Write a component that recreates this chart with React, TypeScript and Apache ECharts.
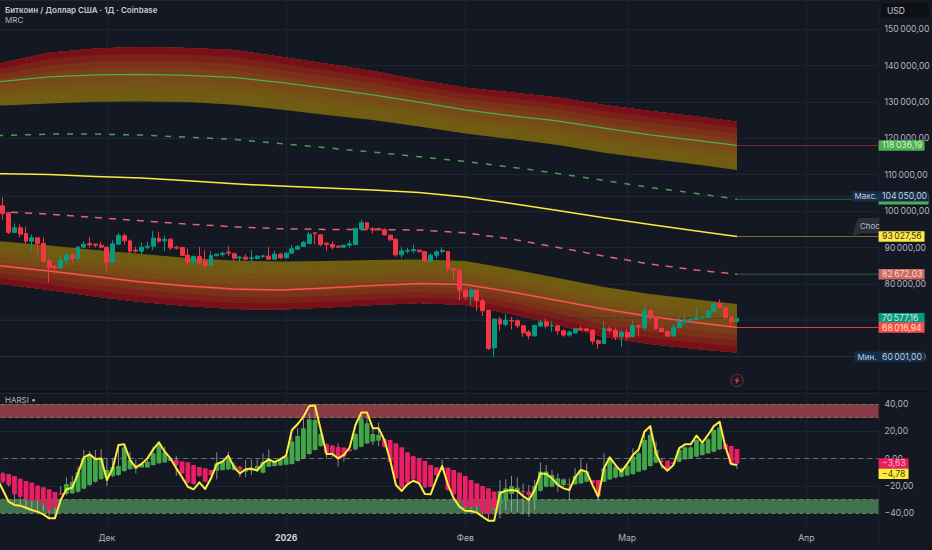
import React, { useEffect, useRef } from "react";
import * as echarts from "echarts";

const BG = "#141823";
const GRID = "#1f2430";
const AXIS_TEXT = "#b2b5be";
const FONT = "Inter, Roboto, sans-serif";
const PLOT_W = 878.56;
const STEP = 5.78;
const N_CATS = 153;
const AX_FONT = 8.6;

const categories: string[] = [];
for (let i = 0; i < N_CATS; i++) {
  categories.push(new Date(Date.UTC(2025, 10, 12) + i * 86400000).toISOString().slice(0, 10));
}
const monthIndex = [19, 50, 81, 109, 140];
const monthText = ["Дек", "2026", "Фев", "Мар", "Апр"];

// [open, close, low, high]; slot 0 is the day cut off at the left edge
const candles: any[] = [
  ["-","-","-","-"],
  [101465,99358,97709,103755],[99541,94137,93679,99816],[94137,95419,94045,96610],[95419,93679,92763,96427],
  [93862,91755,91114,95694],[91755,92671,89099,93587],[92671,91114,88366,92671],[91114,86259,85801,92763],
  [86351,84519,80397,86992],[84794,84427,82870,85252],[84427,86534,84244,87725],[86534,87908,84885,88824],
  [87908,86992,85893,88366],[86992,90106,86076,90381],[90106,90931,90015,91755],[91114,90748,90015,92946],
  [90931,90656,90015,91114],[90656,90106,89740,91572],[90106,85984,83511,90198],[85984,91022,85984,92030],
  [90931,93312,90839,94045],[93221,91847,90839,93862],[91847,89007,88183,92213],[89282,89007,88549,90198],
  [89007,90106,88091,91389],[90106,90381,89465,91572],[90381,92580,89282,94503],[92580,91755,91297,94228],
  [91847,92213,89007,93221],[92305,89923,89282,92488],[90106,89832,89465,90473],[90015,87816,87633,90198],
  [87908,85984,85068,89740],[85984,87542,85068,87816],[87542,85801,85252,90198],[86168,85068,84061,89282],
  [85068,87816,85068,89007],[87725,88183,87633,88183],[88091,88458,87450,88916],[88732,88458,87725,90381],
  [88275,87084,86351,88641],[87084,87358,86076,87725],[87358,86809,86626,88183],[86992,87175,86351,89282],
  [86992,87633,86717,87816],[87542,87725,87175,87908],[87633,86809,86626,90198],[86809,88183,86626,89007],
  [88183,87175,86809,88549],[87175,88458,87084,88641],[88458,89648,88275,90656],[89557,90290,89465,90656],
  [90290,91389,90198,91847],[91114,93679,91022,94412],[94045,93770,90931,94137],[93496,90839,90381,93496],
  [91206,90839,89007,91389],[90839,90106,89465,91755],[90381,90106,90015,90473],[90106,90656,90015,90656],
  [90656,91022,89923,92030],[90839,95236,90656,95419],[95053,96793,94595,97709],[96793,95328,94778,96885],
  [95236,94870,93862,95511],[95236,94870,94778,95328],[94870,93496,93312,95236],[93404,92122,91755,93404],
  [92305,88000,87450,92396],[88000,89099,87175,90198],[89007,89190,88366,89923],[89099,89465,88366,90839],
  [89282,88824,88732,89374],[88824,86351,85984,89007],[86259,87908,86259,88366],[87908,88824,86992,89190],
  [88916,89190,88366,90106],[88926,84254,83063,89007],[84254,83796,80865,84254],[83796,78300,75552,83796],
  [78300,76468,75552,78758],[76468,78300,74178,78758],[78300,75369,72621,78300],[75369,72621,71155,76010],
  [72712,62270,61812,72804],[62453,70331,60001,70331],[70240,68957,67125,70972],[68865,70056,68407,71888],
  [69964,69781,67491,70972],[69873,68499,67858,70240],[68499,66575,65476,68865],[66758,65751,64743,67308],
  [65751,68590,65476,68865],[68407,69507,68224,70148],[69598,68407,67766,70514],[68407,68590,66850,69690],
  [68499,67125,66026,68774],[67125,65934,65476,67491],[65934,66758,65476,67125],[66575,67674,66209,67858],
  [67766,67400,67125,68407],[67674,67216,66942,68041],[67308,64285,63369,67491],[64377,63644,62178,64835],
  [63644,67766,63461,69781],[67674,67216,66392,68407],[67216,65476,64560,68041],[65476,66667,62728,67308],
  [66667,65384,64743,67674],[65476,68590,65293,69781],[68590,68132,65476,68865],[67949,72438,67125,73903],
  [72529,70606,70240,73079],[70789,67674,67491,70789],[67858,66942,66667,68041],[66942,65659,65476,67125],
  [65659,68041,65568,69140],[68041,69598,67949,71247],[69506,70056,68774,71155],[69873,70331,69781,70422],
  [70240,70606,70056,73537],[70606,70880,70514,70972],[70789,72529,70697,72621],[72346,74636,72254,74820],
  [74636,73537,73354,75735],[73537,70697,70422,73720],[70880,69598,68407,71063],[69598,70577,69400,70700],
];

// MRC curves, read at these category slots
const mrcKnots = [0,1,9,17,25,33,41,49,57,65,73,81,89,97,105,113,121,128];
const upperBandTop = [140300,140751,143498,144689,145055,144780,144231,142400,140477,138462,135990,133884,132602,131228,129122,127473,126008,124543];
const upperBandBottom = [128950,129030,129580,130038,130129,129946,129213,127931,126375,125001,123261,121338,119781,118133,116027,114379,112822,111266];
const upperInner = [135400,135623,136905,137455,137546,137272,136722,135349,133700,131960,129946,127840,126192,124818,122804,120972,119415,118036];
const upperOuterDashed = [120750,120789,121155,121155,120880,120331,119690,118591,117401,116212,114929,113646,112090,110350,108427,106504,104856,103270];
const meanLine = [110280,110258,110075,109526,109068,108336,107512,106870,106321,105772,105131,103849,102109,100186,98171,96340,94509,93027];
const lowerOuterDashed = [99950,99812,99180,98272,97340,96430,95690,95140,94980,94980,94785,94040,92310,90030,87640,85445,83800,82672];
const lowerBandTop = [91800,91625,90527,89291,88192,87093,86406,86131,86269,86544,86681,86269,84070,81600,79127,77204,75693,74457];
const lowerInner = [85150,84896,83522,82011,80501,79402,78578,78303,78852,79539,80088,79814,77753,75418,73083,71023,69374,68016];
const lowerBandBottom = [80300,79951,78303,76517,75006,73907,73083,72946,73495,74183,74733,74183,71710,68688,65392,63469,62096,61135];
const layerColors = ["#6f5e12","#715a13","#745314","#774a16","#7a3f18","#7b3219","#7a221a","#78101a"];

// HARSI candles [open, close, low, high], from slot 1
const harsi = [
  [-10.9,-17,-18.2,-9.7],[-11.4,-19.4,-20.7,-11.4],[-12.8,-26.3,-32.9,-12.8],[-14.8,-28,-34.1,-14.8],
  [-16.5,-29.9,-35.3,-16.5],[-17.7,-31.2,-36.6,-17.7],[-19.9,-30.9,-37.8,-19.9],[-21.1,-34.1,-39,-21.1],
  [-22.6,-38.3,-43.9,-22.6],[-24.6,-35.8,-43.9,-24.6],[-25.5,-26.5,-26.8,-20.2],[-26,-18.7,-27,-13.8],
  [-25.5,-17.2,-26,-12.8],[-24.3,-10.1,-25.1,-6],[-22.1,0.1,-22.6,6.3],[-19.4,3.1,-20.2,5.5],
  [-17,-0.4,-17.7,6.3],[-15,-0.4,-15.8,7],[-13.8,-8.4,-20.2,0.1],[-12.8,-6.2,-13.8,0.1],
  [-12.1,-5.5,-12.6,9.9],[-9.2,8.2,-9.7,9.9],[-7.7,-1.1,-8.4,5],[-7.4,-5.5,-10.9,-0.6],
  [-6.5,-4,-6.8,-3.5],[-6.5,-2.3,-6.8,-1],[-4.8,3.8,-5,8.7],[-3.5,9.9,-3.8,12.4],
  [-2.8,4.5,-3,8.7],[-1.8,0.1,-2,1],[-1.1,-4.8,-12.8,2.1],[-2.1,-10.9,-11.4,-2.1],
  [-2.8,-17.7,-18.2,-2.8],[-4.8,-18.7,-19.2,-4.8],[-6.2,-12.8,-13.3,-6.2],[-7.2,-17,-17.4,-7.2],
  [-8.4,-12.1,-12.6,-8.4],[-8.9,-3.5,-15.3,4.5],[-8.4,-1.8,-8.9,-1],[-7.9,0.1,-8.4,5],
  [-8.4,-5,-8.9,-3],[-6,-8.4,-13.8,-5.5],[-9.6,-8.4,-13.8,-1.1],[-8.9,-7.4,-12.1,-0.6],
  [-7.9,-5.5,-9.6,-0.6],[-10.4,-2.6,-10.9,3.8],[-6,-1.3,-6.5,6.7],[-5.5,-2.3,-5.8,-1.8],
  [-5,-0.4,-5.3,0.1],[-4.5,1.4,-4.8,1.9],[-4,12.4,-4.5,16],[-1.8,16.5,-2.3,22.6],
  [0.1,22.2,-0.4,29.5],[3.3,28.8,2.8,33.2],[6.3,28.3,5.8,38.1],[9.2,18,8.7,18.5],
  [10.4,3.8,0.1,11.1],[9.4,2.6,1,9.9],[8.4,0.1,-6,11.1],[8,1.4,-2.3,8],
  [6.7,5.5,5,7],[6.7,18,6.2,18.5],[8.7,29.5,8.2,33.2],[11.1,25.8,10.6,30.7],
  [12.4,18,9.9,22.9],[13.1,17.3,9.2,26.3],[14.1,8.7,8.2,14.1],[13.6,-2.3,-2.6,13.6],
  [11.1,-14.5,-15,11.1],[8.2,-21.1,-21.6,8.2],[4.5,-17.7,-18.2,4.5],[1.8,-15.3,-15.8,1.8],
  [-0.1,-18.2,-18.7,-0.1],[-1.8,-21.1,-21.6,-1.8],[-4.8,-20.7,-21.1,-4.8],[-6.5,-12.1,-12.6,-6.5],
  [-6.5,-8.4,-9,-0.6],[-6.7,-23.1,-23.6,-6.7],[-8.4,-26,-26.5,-8.4],[-10.4,-31.2,-31.7,-10.4],
  [-12.8,-35.8,-36.3,-12.8],[-15.8,-35.8,-37,-15.8],[-18.2,-35.3,-39,-18.2],[-20.2,-39.7,-42,-20.2],
  [-21.9,-40.7,-45,-21.9],[-24.3,-36.6,-38,-24.3],[-32.9,-23.8,-43.9,-15.8],[-30.9,-21.9,-37.8,-15.3],
  [-26,-20.2,-39,-12.8],[-24.3,-21.4,-39,-13.8],[-23.8,-24.6,-41.4,-18.2],[-24.3,-26.8,-42.7,-19.4],
  [-30.4,-20.2,-37.8,-15.8],[-23.6,-9.6,-24.3,-2.8],[-20.7,-9.6,-21.1,-4.8],[-20.7,-12.1,-21.1,-8.4],
  [-19.4,-14.5,-24.3,-10.9],[-19.4,-15.3,-20.7,-14.5],[-18.7,-19.4,-30.4,-14.5],[-18.9,-12.8,-19.4,-7.2],
  [-18.2,-8.4,-18.7,-0.6],[-17,-9.6,-17.5,-3.5],[-15.8,-18.2,-18.7,-15.8],[-15.8,-27.5,-30.9,-15.8],
  [-17,-7.2,-17.5,3.8],[-15.3,-0.6,-15.8,1.4],[-14,-6,-14.5,-5.5],[-13.3,-7.2,-13.8,-6.7],
  [-12.3,-5.2,-12.8,-4.8],[-11.4,1.4,-11.9,7.5],[-9.6,3.8,-10,6.7],[-8.4,13.6,-8.9,20.9],
  [-5.5,17.3,-6,23.4],[-3,6.3,-3.5,12.4],[-1.6,-2.3,-7.7,0.1],[-1.6,-7.2,-9.2,-1.6],
  [-3,-4,-4.5,-2.5],[-2.3,6.3,-2.8,8.7],[-0.6,8.2,-1.1,9],[0.1,8.2,-0.4,9],
  [1.4,13.6,0.9,14.1],[2.6,11.1,2.1,12],[3.8,14.1,3.3,15],[5,20.9,4.5,21.5],
  [6.7,22.9,6.2,27],[10.8,7,6.5,10.8],[9.2,-4,-4.5,9.2],[7,-3.63,-7.7,7],
];

const rsiLine = [
  -14.5,-23.1,-31.7,-34.1,-34.6,-36.1,-37.8,-39,-41,-43.9,-43.9,-30.4,-22.6,-21.4,-10.9,0.9,3.1,
  -0.4,0.1,-15.8,-7.2,9.9,10.4,-1.1,-6.5,-4,0.1,6.7,11.9,5,0.1,-7.2,-13.8,
  -20.7,-22.6,-17.5,-22.4,-14.5,-4,-2.3,2.1,-6.5,-10.9,-7.9,-7.4,-8.9,-3.5,-0.6,-2.6,
  -0.4,2.1,20.9,25.3,30.7,38.5,39,20.9,3.3,3.3,0.1,2.6,8.2,24.6,33.7,33.7,
  22.2,22.2,13.6,-1.1,-19.4,-23.8,-18.9,-16.3,-18.2,-26,-26.3,-15.3,-5.5,-19.4,-29.2,-35.3,
  -38.3,-38.5,-39.7,-42.7,-45.6,-45.6,-25.5,-23.6,-23.1,-23.8,-27.5,-30.4,-23.1,-10.9,-11.4,-14.5,
  -19.4,-21.9,-23.1,-13.8,-8.4,-9.6,-19.4,-28,-7.2,0.9,-4.8,-9.6,-4,2.6,6.7,19.7,
  23.8,3.8,-5.2,-8.9,-4.8,7.5,10.4,10.4,16.8,11.6,17.3,23.8,27,8.7,-4,-4.78,
];

const overbought = [30, 40];
const oversold = [-40, -30];

type Tag = { value: number; text: string; w: number; bg: string; fg: string; line?: string; from?: number; dash?: number[]; side?: string };

const priceTags: Tag[] = [
  { value: 118036.19, text: "118\u2009036,19", w: 46, bg: "#4caf50", fg: "#d8f0c8", line: "#7d2a33", from: 128 },
  { value: 103270, text: "", w: 50, bg: "#4caf50", fg: "#fff", line: "#2f6b47", from: 128 },
  { value: 104050, text: "104\u2009050,00", w: 50, bg: "#132f4c", fg: "#c8ccd6", line: "#333844", from: 0, dash: [1, 1], side: "Макс." },
  { value: 93027.56, text: "93\u2009027,56", w: 46, bg: "#ffe94a", fg: "#3a3410", line: "#80701f", from: 128 },
  { value: 82672.03, text: "82\u2009672,03", w: 46, bg: "#d0646b", fg: "#eee3a8", line: "#2f5a45", from: 128 },
  { value: 70577.16, text: "70\u2009577,16", w: 46, bg: "#089981", fg: "#cfeedd", line: "#1c3347", from: 0, dash: [1, 1] },
  { value: 68016.94, text: "68\u2009016,94", w: 46, bg: "#fb4a57", fg: "#ffe6a0", line: "#d0454f", from: 128 },
  { value: 60001, text: "60\u2009001,00", w: 46, bg: "#132f4c", fg: "#c8ccd6", line: "#333844", from: 0, dash: [1, 1], side: "Мин." },
];
const harsiTags: Tag[] = [
  { value: -3.63, text: "\u22123,63", w: 30, bg: "#e91e63", fg: "#f5b8c8" },
  { value: -11.2, text: "\u22124,78", w: 30, bg: "#ffeb3b", fg: "#4a4310" },
];

const fmtPrice = (v: number) =>
  v === 50000 || v === 70000 ? "" : String(Math.round(v)).replace(/\B(?=(\d{3})+$)/g, "\u2009") + ",00";
const fmtHarsi = (v: number) => (v % 20 === 0 ? (v < 0 ? "\u2212" : "") + Math.abs(v).toFixed(2).replace(".", ",") : "");

const knotPairs = (arr: number[]) => arr.map((v, i) => [mrcKnots[i], v]);

// Each layer is painted from its own edge out to the far edge, so no seam shows
const bandRender = (top: number[], bottom: number[], redOnTop: boolean) => (_p: any, api: any) => {
  const from = redOnTop ? bottom : top;
  const to = redOnTop ? top : bottom;
  const n = layerColors.length;
  const children: any[] = [];
  for (let k = 0; k < n; k++) {
    const pts: number[][] = [];
    mrcKnots.forEach((x, j) => pts.push(api.coord([x, from[j] + ((to[j] - from[j]) * k) / n])));
    for (let j = mrcKnots.length - 1; j >= 0; j--) pts.push(api.coord([mrcKnots[j], to[j]]));
    children.push({ type: "polygon", shape: { points: pts }, style: { fill: layerColors[k] } });
  }
  return { type: "group", children };
};

const tagLineRender = (tags: Tag[]) => (p: any, api: any) => {
  const t = tags[p.dataIndex];
  if (!t.line) return { type: "group", children: [] };
  const y = api.coord([0, t.value])[1];
  const x0 = t.from === 0 ? 0 : api.coord([t.from, t.value])[0];
  return { type: "line", shape: { x1: x0, y1: y, x2: PLOT_W, y2: y }, style: { stroke: t.line, lineWidth: 1, lineDash: t.dash } };
};

const tagRender = (tags: Tag[]) => (p: any, api: any) => {
  const t = tags[p.dataIndex];
  const y = api.coord([0, t.value])[1];
  const h = 10.4;
  const children: any[] = [];
  if (t.side) {
    const sw = t.side === "Макс." ? 27 : 24;
    children.push({ type: "rect", shape: { x: PLOT_W - sw, y: y - h / 2, width: sw, height: h }, style: { fill: t.bg } });
    children.push({ type: "text", x: PLOT_W - sw + 3, y, style: { text: t.side, fill: t.fg, font: `${AX_FONT - 0.6}px ${FONT}`, verticalAlign: "middle", align: "left" } });
  }
  children.push({ type: "rect", shape: { x: PLOT_W, y: y - h / 2, width: t.w, height: h }, style: { fill: t.bg } });
  if (t.text) {
    children.push({ type: "text", x: PLOT_W + 3.5, y, style: { text: t.text, fill: t.fg, font: `${AX_FONT}px ${FONT}`, verticalAlign: "middle", align: "left" } });
  }
  return { type: "group", children };
};

const harsiRender = (p: any, api: any) => {
  const [o, c, l, h] = harsi[p.dataIndex];
  const i = p.dataIndex + 1;
  const x = api.coord([i, o])[0];
  const yo = api.coord([i, o])[1], yc = api.coord([i, c])[1];
  const yl = api.coord([i, l])[1], yh = api.coord([i, h])[1];
  const top = Math.min(yo, yc);
  return {
    type: "group",
    children: [
      { type: "line", shape: { x1: x, y1: yh, x2: x, y2: yl }, style: { stroke: "rgba(205,205,205,0.62)", lineWidth: 1 } },
      { type: "rect", shape: { x: x - 2.4, y: top, width: 4.8, height: Math.max(Math.abs(yo - yc), 1) }, style: { fill: c >= o ? "#43a648" : "#e91e63" } },
    ],
  };
};

const vLines = monthIndex.map((i) => ({ xAxis: i }));

export default function App() {
  const ref = useRef<HTMLDivElement>(null);
  useEffect(() => {
    document.body.style.margin = "0";
    document.body.style.background = BG;
    const chart = echarts.init(ref.current!, undefined, { renderer: "svg" });
    const xBase = (grid: number, showLabels: boolean) => ({
      type: "category",
      gridIndex: grid,
      data: categories,
      boundaryGap: true,
      axisLine: { show: false },
      axisTick: { show: false },
      splitLine: { show: false },
      axisLabel: showLabels
        ? {
            show: true,
            color: AXIS_TEXT,
            fontFamily: FONT,
            fontSize: AX_FONT,
            margin: 7,
            interval: (i: number) => monthIndex.includes(i),
            formatter: (_v: string, i: number) => {
              const k = monthIndex.indexOf(i);
              if (k < 0) return "";
              return monthText[k] === "2026" ? `{b|${monthText[k]}}` : monthText[k];
            },
            rich: { b: { fontWeight: 700, fontSize: AX_FONT, color: "#d1d4dc", fontFamily: FONT } },
          }
        : { show: false },
    });
    const line = (name: string, arr: number[], color: string, width: number, dash?: number[]) => ({
      type: "line",
      name,
      xAxisIndex: 0,
      yAxisIndex: 0,
      data: knotPairs(arr),
      showSymbol: false,
      z: 3,
      silent: true,
      lineStyle: { color, width, type: dash || "solid", cap: "butt", join: "round" },
    });
    chart.setOption({
      animation: false,
      backgroundColor: BG,
      textStyle: { fontFamily: FONT },
      grid: [
        { left: -STEP, top: 0, width: N_CATS * STEP, height: 393.12, containLabel: false, outerBoundsMode: "none" },
        { left: -STEP, top: 390.4, width: N_CATS * STEP, height: 136.25, containLabel: false, outerBoundsMode: "none" },
      ],
      xAxis: [xBase(0, false), xBase(1, true)],
      yAxis: [
        {
          type: "value", gridIndex: 0, position: "right", min: 50000, max: 158000, interval: 10000,
          axisLine: { show: false }, axisTick: { show: false },
          splitLine: { show: true, lineStyle: { color: GRID, width: 1 } },
          axisLabel: { color: AXIS_TEXT, fontFamily: FONT, fontSize: AX_FONT, margin: 6, showMaxLabel: false, formatter: fmtPrice },
        },
        {
          type: "value", gridIndex: 1, position: "right", min: -50, max: 50, interval: 10,
          axisLine: { show: false }, axisTick: { show: false },
          splitLine: { show: true, lineStyle: { color: ["rgba(0,0,0,0)", GRID], width: 1 } },
          axisLabel: { color: AXIS_TEXT, fontFamily: FONT, fontSize: AX_FONT, margin: 6, formatter: fmtHarsi },
        },
      ],
      graphic: [
        { type: "line", z: 1, shape: { x1: 0, y1: 391.5, x2: 932, y2: 391.5 }, style: { stroke: "#0d1017", lineWidth: 1 } },
        { type: "line", z: 1, shape: { x1: 879.5, y1: 0, x2: 879.5, y2: 550 }, style: { stroke: "#1a1e29", lineWidth: 1 } },
        { type: "text", z: 30, x: 5, y: 10, style: { text: "Биткоин / Доллар США · 1Д · Coinbase", fill: "#c9ccd4", font: `600 8px ${FONT}`, verticalAlign: "middle" } },
        { type: "text", z: 30, x: 5, y: 20, style: { text: "MRC", fill: "#b2b5be", font: `8px ${FONT}`, verticalAlign: "middle" } },
        { type: "text", z: 30, x: 5, y: 400, style: { text: "HARSI •", fill: "#b2b5be", font: `8px ${FONT}`, verticalAlign: "middle" } },
        { type: "rect", z: 30, shape: { x: 881.5, y: 3, width: 47.5, height: 15, r: 3 }, style: { fill: "#0e1016" } },
        { type: "text", z: 31, x: 887, y: 10.5, style: { text: "USD", fill: "#c9ccd4", font: `8.5px ${FONT}`, verticalAlign: "middle" } },
        { type: "polygon", z: 10, shape: { points: [[857, 220], [859, 218], [879, 218], [879, 233], [861, 233], [852, 237]] }, style: { fill: "#2a2f3a" } },
        { type: "text", z: 11, x: 860, y: 226, style: { text: "Choc", fill: "#b8bcc6", font: `8px ${FONT}`, verticalAlign: "middle" } },
        { type: "circle", z: 10, shape: { cx: 737, cy: 380.5, r: 6.2 }, style: { fill: "#1a1a22", stroke: "#7d2a36", lineWidth: 1 } },
        { type: "polygon", z: 11, shape: { points: [[738.5, 376.5], [734.5, 381], [736.8, 381], [735.5, 384.5], [739.5, 380], [737.2, 380]] }, style: { fill: "#e0414f" } },
      ],
      series: [
        {
          type: "line", xAxisIndex: 0, yAxisIndex: 0, data: [], silent: true, z: 1,
          markLine: { z: 1, silent: true, symbol: "none", label: { show: false }, lineStyle: { color: GRID, type: "solid", width: 1 }, data: vLines },
        },
        {
          type: "line", xAxisIndex: 1, yAxisIndex: 1, data: [], silent: true, z: 1,
          markLine: { z: 1, silent: true, symbol: "none", label: { show: false }, lineStyle: { color: GRID, type: "solid", width: 1 }, data: vLines },
        },
        { type: "custom", xAxisIndex: 0, yAxisIndex: 0, z: 2, silent: true, data: [[0, upperBandTop[0]]], renderItem: bandRender(upperBandTop, upperBandBottom, true) },
        { type: "custom", xAxisIndex: 0, yAxisIndex: 0, z: 2, silent: true, data: [[0, lowerBandTop[0]]], renderItem: bandRender(lowerBandTop, lowerBandBottom, false) },
        { type: "custom", xAxisIndex: 0, yAxisIndex: 0, z: 2, silent: true, data: priceTags.map((t) => [0, t.value]), renderItem: tagLineRender(priceTags) },
        line("upperInner", upperInner, "#4caf50", 1.3),
        line("upperOuter", upperOuterDashed, "#4a9e50", 1.5, [6, 8]),
        line("mean", meanLine, "#ffeb3b", 1.5),
        line("lowerOuter", lowerOuterDashed, "#e0666f", 1.5, [7, 7]),
        line("lowerInner", lowerInner, "#ff5058", 1.5),
        {
          type: "candlestick", xAxisIndex: 0, yAxisIndex: 0, data: candles, barWidth: 4.4, z: 4, silent: true,
          itemStyle: { color: "#089981", color0: "#f23645", borderColor: "#089981", borderColor0: "#f23645", borderWidth: 1 },
        },
        {
          type: "line", xAxisIndex: 1, yAxisIndex: 1, data: [], silent: true, z: 2,
          markArea: {
            z: 2,
            silent: true,
            data: [
              [{ yAxis: overbought[0], itemStyle: { color: "#8b3b48" } }, { yAxis: overbought[1] }],
              [{ yAxis: oversold[0], itemStyle: { color: "#41744c" } }, { yAxis: oversold[1] }],
            ],
          },
          markLine: {
            z: 2,
            silent: true, symbol: "none", label: { show: false },
            lineStyle: { color: "#6f7d55", type: [4, 3], width: 1 },
            data: [...overbought, ...oversold].map((v) => ({ yAxis: v })).concat([{ yAxis: 0, lineStyle: { color: "#6d707a", type: [5, 4] } } as any]),
          },
        },
        {
          type: "custom", xAxisIndex: 1, yAxisIndex: 1, z: 4, silent: true,
          data: harsi.map((r, i) => [i + 1, r[1]]),
          renderItem: harsiRender,
        },
        {
          type: "line", xAxisIndex: 1, yAxisIndex: 1, data: rsiLine, showSymbol: false, z: 5, silent: true,
          lineStyle: { color: "#ffeb3b", width: 2, join: "round" },
        },
        { type: "custom", xAxisIndex: 0, yAxisIndex: 0, z: 20, silent: true, data: priceTags.map((t) => [0, t.value]), renderItem: tagRender(priceTags) },
        { type: "custom", xAxisIndex: 1, yAxisIndex: 1, z: 20, silent: true, data: harsiTags.map((t) => [0, t.value]), renderItem: tagRender(harsiTags) },
      ],
    });
    return () => chart.dispose();
  }, []);
  return <div ref={ref} style={{ width: 932, height: 550, background: BG }} />;
}
